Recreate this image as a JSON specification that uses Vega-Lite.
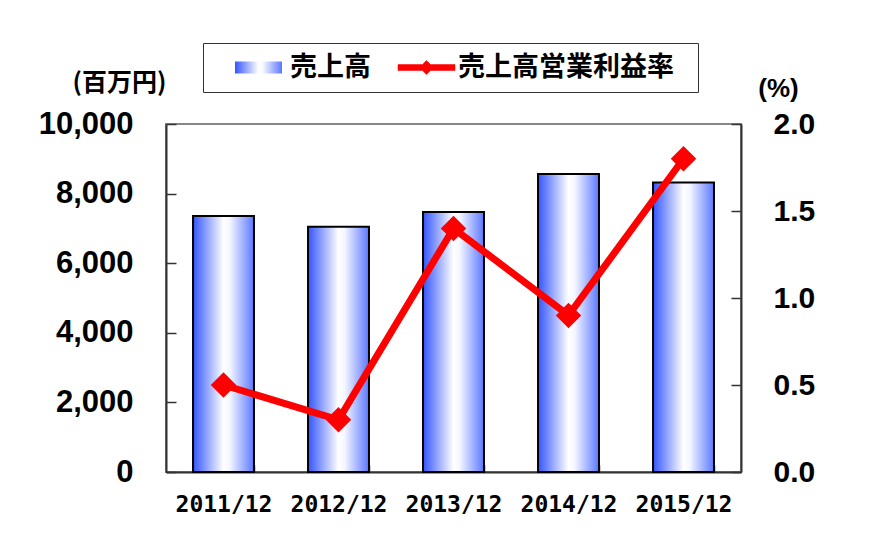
{
  "$schema": "https://vega.github.io/schema/vega-lite/v6.json",
  "width": 575,
  "height": 348,
  "autosize": {"type": "none"},
  "padding": {"left": 166, "top": 124, "right": 138, "bottom": 88},
  "background": "white",
  "config": {
    "view": {"stroke": "#888888", "strokeWidth": 2},
    "axis": {"grid": false, "labelColor": "black", "titleColor": "black", "labelFlush": false, "labelOverlap": false}
  },
  "data": {
    "values": [
      {"year": "2011/12", "sales": 7356, "margin": 0.5},
      {"year": "2012/12", "sales": 7050, "margin": 0.3},
      {"year": "2013/12", "sales": 7471, "margin": 1.4},
      {"year": "2014/12", "sales": 8563, "margin": 0.9},
      {"year": "2015/12", "sales": 8320, "margin": 1.8}
    ]
  },
  "encoding": {
    "x": {
      "field": "year",
      "type": "nominal",
      "sort": null,
      "scale": {"paddingInner": 0.47, "paddingOuter": 0.235},
      "axis": {
        "title": null,
        "labelAngle": 0,
        "labelFont": "DejaVu Sans Mono",
        "labelFontWeight": "bold",
        "labelFontSize": 23,
        "labelPadding": 28,
        "tickBand": "extent",
        "tickSize": -7,
        "tickColor": "#333333",
        "tickWidth": 1.5,
        "domainColor": "#333333",
        "domainWidth": 2
      }
    }
  },
  "layer": [
    {
      "mark": {
        "type": "bar",
        "color": {
          "gradient": "linear",
          "x1": 0, "y1": 0, "x2": 1, "y2": 0,
          "stops": [
            {"offset": 0, "color": "#3355ff"},
            {"offset": 0.5, "color": "#ffffff"},
            {"offset": 0.6, "color": "#f5f7ff"},
            {"offset": 1, "color": "#5c78ff"}
          ]
        },
        "stroke": "#000000",
        "strokeWidth": 2
      },
      "encoding": {
        "y": {
          "field": "sales",
          "type": "quantitative",
          "scale": {"domain": [0, 10000]},
          "axis": {
            "orient": "left",
            "values": [0, 2000, 4000, 6000, 8000, 10000],
            "format": ",d",
            "title": "(百万円)",
            "titleAngle": 0,
            "titleX": -47,
            "titleY": -42,
            "titleAlign": "center",
            "titleBaseline": "middle",
            "titleFont": "Noto Sans CJK JP",
            "titleFontWeight": "bold",
            "titleFontSize": 25,
            "labelFont": "Liberation Sans",
            "labelFontWeight": "bold",
            "labelFontSize": 31,
            "labelPadding": 43,
            "tickSize": -10,
            "tickColor": "#333333",
            "tickWidth": 1.5,
            "domainColor": "#333333",
            "domainWidth": 2
          }
        },
        "opacity": {
          "datum": "売上高",
          "type": "nominal",
          "scale": {"domain": ["売上高"], "range": [1]},
          "legend": {
            "orient": "none",
            "legendX": 79,
            "legendY": -70,
            "direction": "horizontal",
            "title": null,
            "padding": 0,
            "labelFont": "Noto Sans CJK JP",
            "labelFontWeight": "bold",
            "labelFontSize": 27,
            "labelColor": "#000000",
            "labelLimit": 400,
            "labelOffset": 18,
            "symbolType": "M-4.7,-1.2H4.7V1.2H-4.7Z",
            "symbolSize": 100,
            "symbolStrokeColor": "#000000",
            "symbolStrokeWidth": 1.5,
            "symbolOpacity": 1
          }
        }
      }
    },
    {
      "mark": {
        "type": "line",
        "strokeWidth": 7,
        "point": {"shape": "diamond", "size": 650, "filled": true}
      },
      "encoding": {
        "y": {
          "field": "margin",
          "type": "quantitative",
          "scale": {"domain": [0, 2]},
          "axis": {
            "orient": "right",
            "values": [0, 0.5, 1, 1.5, 2],
            "format": ".1f",
            "title": "(%)",
            "titleAngle": 0,
            "titleX": 37,
            "titleY": -36,
            "titleAlign": "center",
            "titleBaseline": "middle",
            "titleFont": "Liberation Sans",
            "titleFontWeight": "bold",
            "titleFontSize": 26,
            "labelFont": "Liberation Sans",
            "labelFontWeight": "bold",
            "labelFontSize": 30,
            "labelPadding": 42,
            "tickSize": -10,
            "tickColor": "#333333",
            "tickWidth": 1.5,
            "domainColor": "#333333",
            "domainWidth": 2
          }
        },
        "color": {
          "datum": "売上高営業利益率",
          "type": "nominal",
          "scale": {"domain": ["売上高営業利益率"], "range": ["#ff0000"]},
          "legend": {
            "orient": "none",
            "legendX": 37,
            "legendY": -81,
            "direction": "horizontal",
            "title": ".",
            "titleOrient": "right",
            "titleColor": "transparent",
            "titleFontSize": 6,
            "titlePadding": 11,
            "strokeColor": "#333333",
            "padding": 11,
            "labelFont": "Noto Sans CJK JP",
            "labelFontWeight": "bold",
            "labelFontSize": 27,
            "labelColor": "#000000",
            "labelLimit": 400,
            "symbolOffset": 199,
            "labelOffset": 18,
            "symbolType": "M-5.7,-0.6H-0.8L0,-1.4L0.8,-0.6H5.7V0.6H0.8L0,1.4L-0.8,0.6H-5.7Z",
            "symbolSize": 100,
            "symbolFillColor": "#ff0000",
            "symbolStrokeColor": "#ff0000",
            "symbolStrokeWidth": 0.5,
            "symbolOpacity": 1
          }
        }
      }
    }
  ],
  "resolve": {"scale": {"y": "independent"}}
}
